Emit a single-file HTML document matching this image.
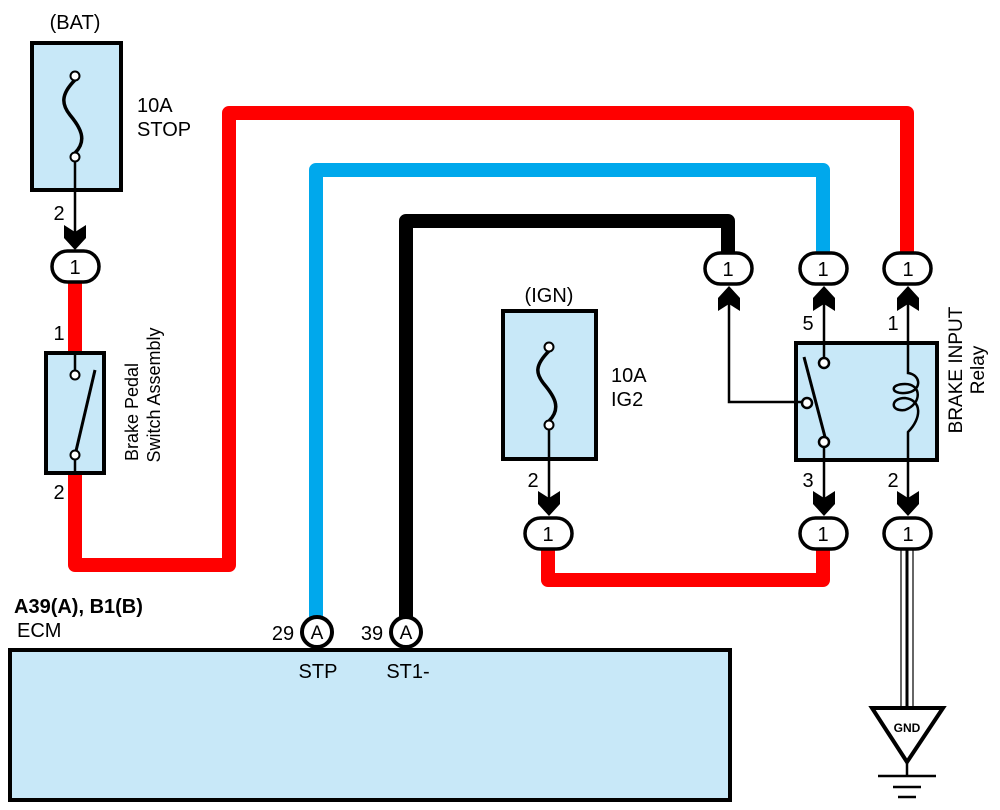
<!DOCTYPE html>
<html><head><meta charset="utf-8"><style>
html,body{margin:0;padding:0;background:#fff;}
svg{display:block;font-family:"Liberation Sans",Arial,sans-serif;}
</style></head><body>
<svg width="1000" height="810" viewBox="0 0 1000 810" xmlns="http://www.w3.org/2000/svg">
<defs>
<g id="cd"><polygon points="-11,-25 0,-18 11,-25 11,-12 0,0 -11,-12" fill="#000"/></g>
<g id="cu"><polygon points="-11,25 0,18 11,25 11,12 0,0 -11,12" fill="#000"/></g>
</defs>
<!-- wires -->
<g fill="none" stroke-linejoin="round">
<polyline points="75,279 75,565 229,565 229,113 907,113 907,256" stroke="#ff0000" stroke-width="14"/>
<polyline points="316,618 316,170 823,170 823,256" stroke="#00a8ec" stroke-width="14"/>
<polyline points="406,618 406,221 728,221 728,256" stroke="#000" stroke-width="14"/>
<polyline points="548,546 548,580 823,580 823,546" stroke="#ff0000" stroke-width="14"/>
</g>
<!-- GND wire -->
<line x1="901" y1="548" x2="901" y2="708" stroke="#000" stroke-width="1.2"/>
<line x1="913" y1="548" x2="913" y2="708" stroke="#000" stroke-width="1.2"/>
<line x1="907" y1="548" x2="907" y2="708" stroke="#000" stroke-width="3"/>
<!-- BAT fuse -->
<text x="75" y="29" font-size="20" text-anchor="middle">(BAT)</text>
<rect x="32" y="43" width="89" height="147" fill="#c8e8f8" stroke="#000" stroke-width="4"/>
<path d="M75,80 C60,95 62,105 70,115 C80,127 88,140 75,153" fill="none" stroke="#000" stroke-width="3.5"/>
<circle cx="75" cy="76" r="4.5" fill="#fff" stroke="#000" stroke-width="2"/>
<circle cx="75" cy="157" r="4.5" fill="#fff" stroke="#000" stroke-width="2"/>
<line x1="75" y1="162" x2="75" y2="245" stroke="#000" stroke-width="2.5"/>
<use href="#cd" x="75" y="250"/>
<text x="59" y="220" font-size="20" text-anchor="middle">2</text>
<text x="137" y="112" font-size="20">10A</text>
<text x="137" y="136" font-size="20">STOP</text>
<!-- Brake pedal switch -->
<rect x="46" y="353" width="58" height="120" fill="#c8e8f8" stroke="#000" stroke-width="4"/>
<line x1="75" y1="355" x2="75" y2="371" stroke="#000" stroke-width="2.5"/>
<line x1="75" y1="459" x2="75" y2="471" stroke="#000" stroke-width="2.5"/>
<line x1="76" y1="451" x2="95" y2="370" stroke="#000" stroke-width="3"/>
<circle cx="75" cy="375" r="4.5" fill="#fff" stroke="#000" stroke-width="2"/>
<circle cx="75" cy="455" r="4.5" fill="#fff" stroke="#000" stroke-width="2"/>
<text x="59" y="340" font-size="20" text-anchor="middle">1</text>
<text x="59" y="499" font-size="20" text-anchor="middle">2</text>
<text transform="translate(138,412) rotate(-90)" font-size="18" text-anchor="middle">Brake Pedal</text>
<text transform="translate(160,395) rotate(-90)" font-size="18" text-anchor="middle">Switch Assembly</text>
<!-- IGN fuse -->
<text x="549" y="302" font-size="20" text-anchor="middle">(IGN)</text>
<rect x="503" y="311" width="93" height="148" fill="#c8e8f8" stroke="#000" stroke-width="4"/>
<path d="M549,351 C534,366 536,374 544,384 C554,396 562,408 549,421" fill="none" stroke="#000" stroke-width="3.5"/>
<circle cx="549" cy="347" r="4.5" fill="#fff" stroke="#000" stroke-width="2"/>
<circle cx="549" cy="425" r="4.5" fill="#fff" stroke="#000" stroke-width="2"/>
<line x1="549" y1="430" x2="549" y2="510" stroke="#000" stroke-width="2.5"/>
<use href="#cd" x="549" y="516"/>
<text x="533" y="487" font-size="20" text-anchor="middle">2</text>
<text x="611" y="382" font-size="20">10A</text>
<text x="611" y="406" font-size="20">IG2</text>
<!-- Relay -->
<rect x="796" y="343" width="141" height="117" fill="#c8e8f8" stroke="#000" stroke-width="4"/>
<line x1="824" y1="298" x2="824" y2="358" stroke="#000" stroke-width="2.5"/>
<line x1="824" y1="446" x2="824" y2="510" stroke="#000" stroke-width="2.5"/>
<line x1="804" y1="357" x2="825" y2="437" stroke="#000" stroke-width="3"/>
<polyline points="802,402 729,402 729,298" fill="none" stroke="#000" stroke-width="2.5"/>
<circle cx="824" cy="363" r="5" fill="#fff" stroke="#000" stroke-width="2.5"/>
<circle cx="807" cy="403" r="5" fill="#fff" stroke="#000" stroke-width="2.5"/>
<circle cx="824" cy="442" r="5" fill="#fff" stroke="#000" stroke-width="2.5"/>
<path d="M908,298 L908,373 C922,375 922,392 905,393 C890,394 890,384 905,384 C922,384 922,404 905,410 C890,412 890,398 905,398 C922,400 922,418 908,432 L908,510" fill="none" stroke="#000" stroke-width="2.5"/>
<use href="#cu" x="729" y="286"/>
<use href="#cu" x="824" y="286"/>
<use href="#cu" x="908" y="286"/>
<use href="#cd" x="824" y="516"/>
<use href="#cd" x="908" y="516"/>
<text x="808" y="330" font-size="20" text-anchor="middle">5</text>
<text x="893" y="330" font-size="20" text-anchor="middle">1</text>
<text x="808" y="487" font-size="20" text-anchor="middle">3</text>
<text x="893" y="487" font-size="20" text-anchor="middle">2</text>
<text transform="translate(962,370) rotate(-90)" font-size="19" text-anchor="middle">BRAKE INPUT</text>
<text transform="translate(984,370) rotate(-90)" font-size="19" text-anchor="middle">Relay</text>
<!-- connectors -->
<g fill="#fff" stroke="#000" stroke-width="3.5">
<rect x="52" y="251" width="47" height="31" rx="15.5"/>
<rect x="705" y="253" width="47" height="31" rx="15.5"/>
<rect x="800" y="253" width="47" height="31" rx="15.5"/>
<rect x="884" y="253" width="47" height="31" rx="15.5"/>
<rect x="525" y="518" width="47" height="31" rx="15.5"/>
<rect x="800" y="518" width="47" height="31" rx="15.5"/>
<rect x="884" y="518" width="47" height="31" rx="15.5"/>
</g>
<g font-size="20" text-anchor="middle">
<text x="75" y="274">1</text>
<text x="728" y="276">1</text>
<text x="823" y="276">1</text>
<text x="908" y="276">1</text>
<text x="548" y="541">1</text>
<text x="823" y="541">1</text>
<text x="908" y="541">1</text>
</g>
<!-- GND -->
<polygon points="872,708 943,708 907,762" fill="#fff" stroke="#000" stroke-width="4"/>
<text x="907" y="732" font-size="12" font-weight="bold" text-anchor="middle">GND</text>
<line x1="907" y1="762" x2="907" y2="776" stroke="#000" stroke-width="2.5"/>
<line x1="878" y1="776" x2="936" y2="776" stroke="#000" stroke-width="2.5"/>
<line x1="893" y1="787" x2="921" y2="787" stroke="#000" stroke-width="2.5"/>
<line x1="898" y1="797" x2="916" y2="797" stroke="#000" stroke-width="2.5"/>
<!-- ECM -->
<rect x="10" y="650" width="720" height="150" fill="#c8e8f8" stroke="#000" stroke-width="4"/>
<text x="14" y="613" font-size="20" font-weight="bold">A39(A), B1(B)</text>
<text x="17" y="637" font-size="20">ECM</text>
<circle cx="317" cy="632" r="15" fill="#fff" stroke="#000" stroke-width="4"/>
<circle cx="406" cy="632" r="15" fill="#fff" stroke="#000" stroke-width="4"/>
<text x="317" y="639" font-size="19" text-anchor="middle">A</text>
<text x="406" y="639" font-size="19" text-anchor="middle">A</text>
<text x="283" y="640" font-size="20" text-anchor="middle">29</text>
<text x="372" y="640" font-size="20" text-anchor="middle">39</text>
<text x="318" y="678" font-size="20" text-anchor="middle">STP</text>
<text x="408" y="678" font-size="20" text-anchor="middle">ST1-</text>
</svg>
</body></html>
